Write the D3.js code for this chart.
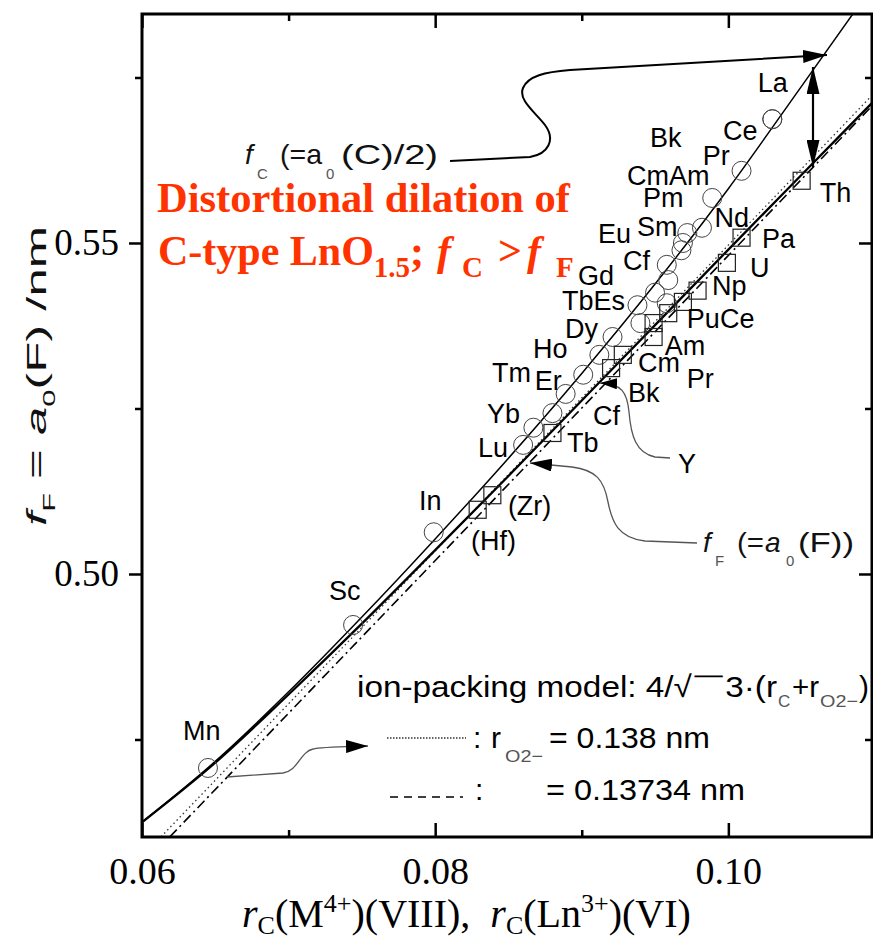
<!DOCTYPE html>
<html>
<head>
<meta charset="utf-8">
<script src="https://cdn.jsdelivr.net/npm/d3@7"></script>
<style>
  body { margin: 0; background: #fff; }
  svg { display: block; }
  text { font-family: "Liberation Sans", Arial, sans-serif; }
  .serif { font-family: "Liberation Serif", "Times New Roman", serif; }
</style>
</head>
<body>
<div id="chart"></div>
<script>
// fitted curves
const curveX = [0.060, 0.065, 0.070, 0.075, 0.080, 0.085, 0.090, 0.095, 0.100, 0.105, 0.110];
const fCfit  = [0.4625, 0.4717, 0.4822, 0.4935, 0.5053, 0.5175, 0.5303, 0.5438, 0.5582, 0.5737, 0.5893];
const fFfit  = [0.4625, 0.4715, 0.4818, 0.4925, 0.5036, 0.5148, 0.5262, 0.5376, 0.5490, 0.5603, 0.5716];

// ion-packing model 4/sqrt3*(rC + rO2-), end points
const model138X = [0.0613, 0.1098], model138Y = [0.4603, 0.5723];
const model137X = [0.0619, 0.1098], model137Y = [0.4603, 0.5707];

// C-type LnO1.5 (circles)
const cNames = ["Mn","Sc","In","Lu","Yb","Tm","Er","Ho","Dy","Y","Es","Tb","Gd","Cf","Eu","Sm","Bk","Cm","Am","Pm","Nd","Pr","Ce","La"];
const cX = [0.0645,0.0744,0.0799,0.0860,0.0867,0.0880,0.0889,0.0901,0.0912,0.0921,0.0940,0.0938,0.0950,0.0958,0.0959,0.0958,0.0968,0.0969,0.0972,0.0982,0.0989,0.1009,0.1030,0.1030];
const cY = [0.4707,0.4923,0.5063,0.5195,0.5221,0.5243,0.5272,0.5301,0.5331,0.5358,0.5379,0.5406,0.5425,0.5409,0.5444,0.5467,0.5489,0.5500,0.5515,0.5523,0.5568,0.5609,0.5687,0.5687];

// F-type MO2 (squares)
const fNames = ["Hf","Zr","Tb","Cf","Bk","Cm","Am","Pr","Ce","Np","U","Pa","Th"];
const fX = [0.0829,0.0839,0.0880,0.0920,0.0928,0.0949,0.0949,0.0959,0.0969,0.0979,0.0999,0.1009,0.1050];
const fY = [0.5097,0.5119,0.5213,0.5311,0.5331,0.5358,0.5379,0.5394,0.5411,0.5428,0.5470,0.5508,0.5594];

// element labels (left / baseline, data units)
const labelText = ["La","Ce","Pr","Bk","CmAm","Pm","Nd","Eu","Sm","Cf","Gd","TbEs","Dy","Ho","Tm","Er","Yb","Lu","In","Sc","Mn",
                   "(Zr)","(Hf)","Tb","Cf","Bk","Cm","Pr","Am","PuCe","Np","U","Pa","Th","Y"];
const labelX = [0.10201,0.09963,0.09826,0.09465,0.09308,0.09417,0.09906,0.09110,0.09376,0.09281,0.08974,0.08865,0.08885,0.08667,0.08387,0.08680,0.08353,0.08292,0.07889,0.07275,0.06280,
                0.08496,0.08244,0.08899,0.09076,0.09315,0.09383,0.09717,0.09567,0.09717,0.09888,0.10147,0.10229,0.10624,0.09656];
const labelY = [0.57281,0.56556,0.56178,0.56450,0.55876,0.55544,0.55242,0.55000,0.55106,0.54592,0.54366,0.53988,0.53565,0.53263,0.52900,0.52779,0.52281,0.51767,0.50967,0.49607,0.47492,
                0.50891,0.50362,0.51843,0.52251,0.52598,0.53051,0.52810,0.53308,0.53716,0.54214,0.54486,0.54924,0.55619,0.51526];

const xMajor = [0.06, 0.08, 0.10], xMinor = [0.07, 0.09];
const yMajor = [0.50, 0.55], yMinor = [0.475, 0.525, 0.575];

const width = 873, height = 943;
const plotL = 142, plotR = 872, plotT = 14, plotB = 837;

const svg = d3.select("#chart").append("svg")
  .attr("width", width).attr("height", height)
  .style("background", "#fff");

const x = d3.scaleLinear().domain([0.06, 0.1098]).range([plotL, plotR]);
const y = d3.scaleLinear().domain([0.46027, 0.58459]).range([plotB, plotT]);

const defs = svg.append("defs");
defs.append("clipPath").attr("id", "plot")
  .append("rect").attr("x", plotL).attr("y", plotT).attr("width", plotR - plotL).attr("height", plotB - plotT);

function arrowMarker(id, len, wid, color) {
  defs.append("marker").attr("id", id)
    .attr("markerUnits", "userSpaceOnUse")
    .attr("viewBox", `0 0 ${len} ${wid}`)
    .attr("markerWidth", len).attr("markerHeight", wid)
    .attr("refX", len).attr("refY", wid / 2)
    .attr("orient", "auto-start-reverse")
    .append("path").attr("d", `M0,0L${len},${wid / 2}L0,${wid}Z`).attr("fill", color);
}
arrowMarker("headBig", 24, 13, "#000");
arrowMarker("headTall", 27, 13, "#000");
arrowMarker("headMid", 22, 13, "#000");
arrowMarker("headSmall", 17, 11, "#000");

// ---- lines
const line = d3.line().x(d => x(d[0])).y(d => y(d[1])).curve(d3.curveMonotoneX);
const g = svg.append("g").attr("clip-path", "url(#plot)");

g.append("path").datum(d3.zip(model138X, model138Y))
  .attr("d", line).attr("fill", "none").attr("stroke", "#333")
  .attr("stroke-width", 1.3).attr("stroke-dasharray", "1.5,3");
g.append("path").datum(d3.zip(model137X, model137Y))
  .attr("d", line).attr("fill", "none").attr("stroke", "#000")
  .attr("stroke-width", 1.6).attr("stroke-dasharray", "10,4,2,4");
g.append("path").datum(d3.zip(curveX, fFfit))
  .attr("d", line).attr("fill", "none").attr("stroke", "#000").attr("stroke-width", 2.3);
g.append("path").datum(d3.zip(curveX, fCfit))
  .attr("d", line).attr("fill", "none").attr("stroke", "#000").attr("stroke-width", 1.5);

// ---- points
g.selectAll("circle.c").data(d3.zip(cX, cY)).join("circle")
  .attr("class", "c")
  .attr("cx", d => x(d[0])).attr("cy", d => y(d[1])).attr("r", 9.5)
  .attr("fill", "none").attr("stroke", "#444").attr("stroke-width", 1);
g.selectAll("rect.f").data(d3.zip(fX, fY)).join("rect")
  .attr("class", "f")
  .attr("x", d => x(d[0]) - 8.5).attr("y", d => y(d[1]) - 8.5)
  .attr("width", 17).attr("height", 17)
  .attr("fill", "none").attr("stroke", "#222").attr("stroke-width", 1.2);

// ---- element labels
svg.append("g").selectAll("text").data(d3.range(labelText.length)).join("text")
  .attr("x", i => x(labelX[i])).attr("y", i => y(labelY[i]))
  .attr("font-size", 27).attr("fill", "#000")
  .text(i => labelText[i]);

// ---- axes
function styleAxis(sel) {
  sel.select(".domain").remove();
  sel.selectAll(".tick line").attr("stroke", "#000").attr("stroke-width", 2.5);
  sel.selectAll(".tick text").attr("class", "serif").attr("fill", "#000");
}
svg.append("g").attr("transform", `translate(0,${plotB})`)
  .call(d3.axisBottom(x).tickValues(xMajor).tickSize(-14).tickPadding(20).tickFormat(d3.format(".2f")))
  .attr("font-size", 38).call(styleAxis);
svg.append("g").attr("transform", `translate(0,${plotB})`)
  .call(d3.axisBottom(x).tickValues(xMinor).tickSize(-7).tickFormat(""))
  .call(styleAxis);
svg.append("g").attr("transform", `translate(0,${plotT})`)
  .call(d3.axisTop(x).tickValues(xMajor).tickSize(-14).tickFormat(""))
  .call(styleAxis);
svg.append("g").attr("transform", `translate(0,${plotT})`)
  .call(d3.axisTop(x).tickValues(xMinor).tickSize(-7).tickFormat(""))
  .call(styleAxis);
svg.append("g").attr("transform", `translate(${plotL},0)`)
  .call(d3.axisLeft(y).tickValues(yMajor).tickSize(13).tickPadding(10).tickFormat(d3.format(".2f")))
  .attr("font-size", 37).call(styleAxis);
svg.append("g").attr("transform", `translate(${plotL},0)`)
  .call(d3.axisLeft(y).tickValues(yMinor).tickSize(7).tickFormat(""))
  .call(styleAxis);
svg.append("g").attr("transform", `translate(${plotR},0)`)
  .call(d3.axisRight(y).tickValues(yMajor).tickSize(-13).tickFormat(""))
  .call(styleAxis);
svg.append("g").attr("transform", `translate(${plotR},0)`)
  .call(d3.axisRight(y).tickValues(yMinor).tickSize(-7).tickFormat(""))
  .call(styleAxis);

svg.append("rect").attr("x", plotL).attr("y", plotT)
  .attr("width", plotR - plotL).attr("height", plotB - plotT)
  .attr("fill", "none").attr("stroke", "#000").attr("stroke-width", 3);

// ---- axis titles
const xt = svg.append("text").attr("class", "serif").attr("x", 242).attr("y", 927)
  .attr("font-size", 40).attr("fill", "#000");
xt.append("tspan").attr("font-style", "italic").text("r");
xt.append("tspan").attr("font-size", 26).attr("dy", 7).text("C");
xt.append("tspan").attr("dy", -7).text("(M");
xt.append("tspan").attr("font-size", 26).attr("dy", -15).text("4+");
xt.append("tspan").attr("dy", 15).text(")(VIII),\u00a0\u00a0");
xt.append("tspan").attr("font-style", "italic").text("r");
xt.append("tspan").attr("font-size", 26).attr("dy", 7).text("C");
xt.append("tspan").attr("dy", -7).text("(Ln");
xt.append("tspan").attr("font-size", 26).attr("dy", -15).text("3+");
xt.append("tspan").attr("dy", 15).text(")(VI)");

const yt = svg.append("text").attr("transform", "translate(46,376) rotate(-90)")
  .attr("text-anchor", "middle").attr("font-size", 28).attr("fill", "#111")
  .attr("textLength", 300).attr("lengthAdjust", "spacingAndGlyphs");
yt.append("tspan").attr("font-style", "italic").text("f");
yt.append("tspan").attr("font-size", 17).attr("dy", 9).text("F");
yt.append("tspan").attr("dy", -9).text(" = ");
yt.append("tspan").attr("font-style", "italic").text("a");
yt.append("tspan").attr("font-size", 17).attr("dy", 9).text("0");
yt.append("tspan").attr("dy", -9).text("(F) /nm");

// ---- red annotation
const red = "#ff3300";
svg.append("text").attr("class", "serif").attr("x", 157).attr("y", 212)
  .attr("font-size", 42).attr("font-weight", "bold").attr("fill", red)
  .attr("textLength", 413).attr("lengthAdjust", "spacingAndGlyphs")
  .text("Distortional dilation of");
const r2 = svg.append("text").attr("class", "serif").attr("x", 158).attr("y", 265)
  .attr("font-size", 42).attr("font-weight", "bold").attr("fill", red);
r2.append("tspan").text("C-type LnO");
r2.append("tspan").attr("font-size", 29).attr("dy", 12).text("1.5");
r2.append("tspan").attr("dy", -12).text(";");
r2.append("tspan").attr("x", 437).attr("font-style", "italic").text("f");
r2.append("tspan").attr("x", 462).attr("font-size", 29).attr("dy", 12).text("C");
r2.append("tspan").attr("x", 498).attr("dy", -12).text(">");
r2.append("tspan").attr("x", 527).attr("font-style", "italic").text("f");
r2.append("tspan").attr("x", 556).attr("font-size", 29).attr("dy", 12).text("F");

// ---- f_C and f_F annotations
function piece(px, py, str, size, opts = {}) {
  const t = svg.append("text").attr("x", px).attr("y", py).attr("font-size", size)
    .attr("fill", opts.fill || "#111").text(str);
  if (opts.italic) t.attr("font-style", "italic");
  if (opts.len) t.attr("textLength", opts.len).attr("lengthAdjust", "spacingAndGlyphs");
  return t;
}
piece(245, 164, "f", 28, { italic: true });
piece(257, 179, "C", 15, { fill: "#555" });
piece(280, 164, "(=a", 28, { len: 42 });
piece(326, 179, "0", 15, { fill: "#555" });
piece(341, 164, "(C)/2)", 28, { len: 97 });

piece(703, 552, "f", 28, { italic: true });
piece(715, 566, "F", 15, { fill: "#555" });
piece(737, 552, "(=", 28, { len: 27 });
piece(765, 552, "a", 28, { italic: true });
piece(786, 566, "0", 15, { fill: "#555" });
piece(798, 552, "(F))", 28, { len: 56 });

// ---- leader arrows
svg.append("path")
  .attr("d", "M450,161 L530,157 C548,154 556,140 545,125 C535,112 518,100 523,88 C528,76 545,72 570,70 L827,55")
  .attr("fill", "none").attr("stroke", "#000").attr("stroke-width", 2)
  .attr("marker-end", "url(#headBig)");
svg.append("path")
  .attr("d", "M813,167 L813,67")
  .attr("stroke", "#000").attr("stroke-width", 2.2)
  .attr("marker-start", "url(#headTall)").attr("marker-end", "url(#headTall)");
svg.append("path")
  .attr("d", "M697,543 L645,541 C618,538 612,522 608,502 C604,480 596,470 572,467 L530,463")
  .attr("fill", "none").attr("stroke", "#555").attr("stroke-width", 1.3)
  .attr("marker-end", "url(#headMid)");
svg.append("path")
  .attr("d", "M670,458 L655,457 C636,453 631,436 629,412 C627,392 622,384 600,383")
  .attr("fill", "none").attr("stroke", "#555").attr("stroke-width", 1.3)
  .attr("marker-end", "url(#headSmall)");
svg.append("path")
  .attr("d", "M227,777 L283,773 C298,771 300,752 313,749 C320,747 330,747 368,746")
  .attr("fill", "none").attr("stroke", "#555").attr("stroke-width", 1.3)
  .attr("marker-end", "url(#headMid)");

// ---- legend
piece(357, 697, "ion-packing model: 4/\u221a\uffe33\u00b7(r", 30, { len: 420, fill: "#000" });
piece(778, 707, "C", 17, { fill: "#555" });
piece(792, 697, "+r", 30, { len: 27, fill: "#000" });
piece(820, 707, "O2\u2212", 17, { len: 38, fill: "#555" });
piece(859, 697, ")", 30, { fill: "#000" });

svg.append("line").attr("x1", 387).attr("x2", 466).attr("y1", 738).attr("y2", 738)
  .attr("stroke", "#333").attr("stroke-width", 1.3).attr("stroke-dasharray", "1.5,1.5");
piece(473, 748, ":", 30, { fill: "#000" });
piece(491, 748, "r", 30, { fill: "#000" });
piece(505, 762, "O2\u2212", 17, { len: 38, fill: "#555" });
piece(549, 748, "= 0.138 nm", 30, { len: 161, fill: "#000" });

svg.append("line").attr("x1", 390).attr("x2", 463).attr("y1", 797).attr("y2", 797)
  .attr("stroke", "#000").attr("stroke-width", 1.5).attr("stroke-dasharray", "8,6");
piece(475, 800, ":", 30, { fill: "#000" });
piece(546, 800, "= 0.13734 nm", 30, { len: 199, fill: "#000" });
</script>
</body>
</html>
